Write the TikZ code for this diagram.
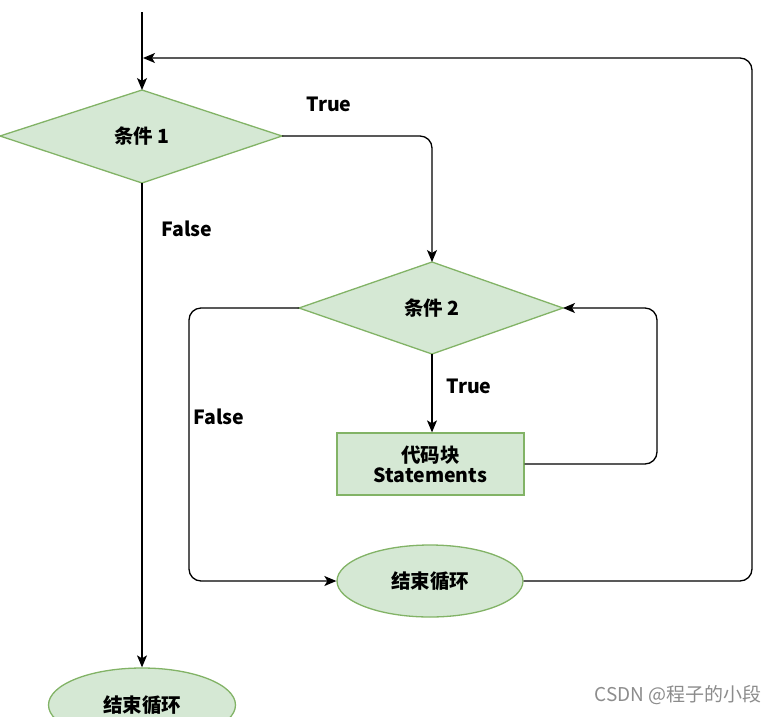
\documentclass[tikz,border=0pt]{standalone}
\usepackage{fontspec}
\setmainfont{Noto Sans CJK SC}
\usetikzlibrary{shapes.geometric,arrows.meta}
\definecolor{gfill}{HTML}{D5E8D4}
\definecolor{gdraw}{HTML}{82B366}
\tikzset{
  lbl/.style={font=\fontsize{19.5}{22}\selectfont\bfseries},
  endnode/.style={ellipse,draw=gdraw,fill=gfill,line width=1.3pt,inner sep=0pt,font=\fontsize{19.5}{22}\selectfont\bfseries},
  stmt/.style={rectangle,draw=gdraw,fill=gfill,line width=1.3pt,inner sep=0pt,font=\fontsize{19.5}{23}\selectfont\bfseries,align=center},
  conn/.style={line width=1.3pt,-{Stealth[length=12pt,width=10pt,inset=3pt]},rounded corners=12pt}
}
\begin{document}
\begin{tikzpicture}[x=1pt,y=-1pt]
\useasboundingbox (0,0) rectangle (780,716);
% diamond 1
\path[draw=gdraw,fill=gfill,line width=1.3pt] (0,136) -- (142,90) -- (282,136) -- (142,183) -- cycle;
\node[lbl] (c1) at (142,136) {条件 1};
\coordinate (c1n) at (142,90);
\coordinate (c1e) at (282,136);
\coordinate (c1s) at (142,183);
% diamond 2
\path[draw=gdraw,fill=gfill,line width=1.3pt] (299,308) -- (432,262) -- (563,308) -- (432,354) -- cycle;
\node[lbl] (c2) at (432,308) {条件 2};
\coordinate (c2n) at (432,262);
\coordinate (c2e) at (563,308);
\coordinate (c2s) at (432,354);
\coordinate (c2w) at (299,308);
% statements
\node[stmt,minimum width=187pt,minimum height=62pt] (st) at (430.5,464) {代码块\\[-3pt]Statements};
% end loop ellipses
\node[endnode,minimum width=186pt,minimum height=72pt] (e2) at (430,581) {结束循环};
\node[endnode,minimum width=187pt,minimum height=74pt] (e1) at (142,705) {结束循环};
% start
\coordinate (start) at (142,12);
\draw[conn] (start) -- (c1n);
% true 1
\draw[conn] (c1e) -- (432,136) -- (c2n);
\node[lbl] (t1) at (329,104) {True};
% false 1
\draw[conn] (c1s) -- (e1.north);
\node[lbl] (f1) at (187,229) {False};
% true 2
\draw[conn] (c2s) -- (c2s |- st.north);
\node[lbl] (t2) at (469,386) {True};
% loop back
\draw[conn] (st.east) -- (657,464) -- (657,308) -- (c2e);
% false 2
\draw[conn] (c2w) -- (189,308) -- (189,581) -- (e2.west);
\node[lbl] (f2) at (219,417) {False};
% back to top
\coordinate (back) at (143,58);
\draw[conn] (e2.east) -- (752,581) -- (752,58) -- (back);
% watermark
\node[font=\fontsize{19}{21}\selectfont,text=black!45] (wm) at (678,695) {CSDN @程子的小段};
\end{tikzpicture}
\end{document}
